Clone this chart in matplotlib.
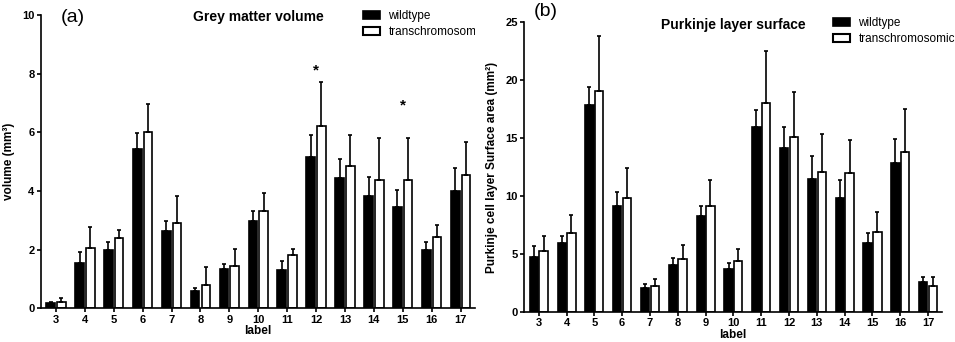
import numpy as np
import matplotlib
matplotlib.use('Agg')
import matplotlib.pyplot as plt
from matplotlib.patches import Patch
from matplotlib.transforms import Bbox, TransformedBbox

plt.rcParams['font.family'] = ['Liberation Sans', 'DejaVu Sans']

labels = [3, 4, 5, 6, 7, 8, 9, 10, 11, 12, 13, 14, 15, 16, 17]
groups = ['wildtype', 'transchromosomic']

# (a) grey matter volume, mm^3 (mean and upper SEM)
gm_wt = [0.17, 1.53, 2.00, 5.42, 2.64, 0.59, 1.33, 2.97, 1.31, 5.17, 4.45, 3.83, 3.45, 1.99, 3.99]
gm_wt_err = [0.03, 0.38, 0.25, 0.57, 0.34, 0.11, 0.17, 0.36, 0.29, 0.74, 0.64, 0.66, 0.57, 0.28, 0.78]
gm_tc = [0.22, 2.05, 2.41, 6.02, 2.90, 0.78, 1.45, 3.31, 1.81, 6.22, 4.86, 4.38, 4.38, 2.44, 4.55]
gm_tc_err = [0.13, 0.73, 0.26, 0.93, 0.94, 0.62, 0.57, 0.63, 0.20, 1.51, 1.05, 1.44, 1.44, 0.39, 1.13]
gm_star = {12: 8.1, 15: 6.9}

# (b) purkinje cell layer surface area, mm^2
pk_wt = [4.71, 5.95, 17.84, 9.17, 2.07, 4.08, 8.30, 3.74, 15.98, 14.11, 11.49, 9.86, 5.95, 12.84, 2.59]
pk_wt_err = [0.95, 0.57, 1.56, 1.20, 0.37, 0.58, 0.81, 0.51, 1.43, 1.81, 1.96, 1.55, 0.86, 2.07, 0.43]
pk_tc = [5.23, 6.81, 19.08, 9.86, 2.27, 4.60, 9.17, 4.37, 18.05, 15.11, 12.04, 12.01, 6.90, 13.82, 2.27]
pk_tc_err = [1.29, 1.58, 4.72, 2.55, 0.57, 1.15, 2.24, 1.03, 4.42, 3.88, 3.33, 2.82, 1.72, 3.68, 0.75]

W, H = 955, 342
fig = plt.figure(figsize=(W / 100, H / 100), dpi=100)

def px(x0, y0, x1, y1):
	return [x0 / W, 1 - y1 / H, (x1 - x0) / W, (y1 - y0) / H]

ax1 = fig.add_axes(px(40.7, 15, 475, 308.3))
ax2 = fig.add_axes(px(524, 22, 942, 312))

LW = 1.2

def draw_panel(ax, wt, wt_err, tc, tc_err, ymax, ystep, offset):
	x = np.array(labels, dtype=float)
	zeros = np.zeros(len(x))
	ax.bar(x - offset, wt, width=0.3, color='black', edgecolor='black', linewidth=LW, zorder=2)
	ax.bar(x + offset, tc, width=0.3, color='white', edgecolor='black', linewidth=LW, zorder=2)
	ax.errorbar(x - offset, wt, yerr=[zeros, wt_err], fmt='none', ecolor='black',
		elinewidth=LW, capsize=1.6, capthick=LW, zorder=3)
	ax.errorbar(x + offset, tc, yerr=[zeros, tc_err], fmt='none', ecolor='black',
		elinewidth=LW, capsize=1.6, capthick=LW, zorder=3)
	ax.set_xlim(2.47, 17.5)
	ax.set_ylim(0, ymax)
	ax.set_yticks(np.arange(0, ymax + 0.1, ystep))
	ax.set_xticks(labels)
	for s in ['top', 'right']:
		ax.spines[s].set_visible(False)
	for s in ['left', 'bottom']:
		ax.spines[s].set_linewidth(LW)
	ax.tick_params(length=3, width=LW, labelsize=8, pad=1.5)
	for t in ax.get_xticklabels() + ax.get_yticklabels():
		t.set_fontweight('bold')
	ax.set_xlabel('label', fontsize=8.5, fontweight='bold', labelpad=0.5)

draw_panel(ax1, gm_wt, gm_wt_err, gm_tc, gm_tc_err, 10, 2, 0.185)
draw_panel(ax2, pk_wt, pk_wt_err, pk_tc, pk_tc_err, 25, 5, 0.175)

for k, yv in gm_star.items():
	ax1.text(k, yv, '*', ha='center', va='center', fontsize=11, fontweight='bold')

ax1.set_ylabel('volume (mm³)', fontsize=8.5, fontweight='bold')
ax1.yaxis.set_label_coords(-0.059, 0.5)
ax2.set_ylabel('Purkinje cell layer Surface area (mm²)', fontsize=8.5, fontweight='bold')
ax2.yaxis.set_label_coords(-0.062, 0.5)

fig.text(258 / W, 1 - 17 / H, 'Grey matter volume', ha='center', va='center', fontsize=10, fontweight='bold')
fig.text(733 / W, 1 - 25 / H, 'Purkinje layer surface', ha='center', va='center', fontsize=10, fontweight='bold')
fig.text(73 / W, 1 - 18 / H, '(a)', ha='center', va='center', fontsize=14)
fig.text(546 / W, 1 - 12 / H, '(b)', ha='center', va='center', fontsize=14)

handles = [Patch(facecolor='black', edgecolor='black', linewidth=LW),
	Patch(facecolor='white', edgecolor='black', linewidth=1.5)]

def add_legend(ax, x0, y0):
	return ax.legend(handles, groups, loc='upper left', bbox_to_anchor=(x0 / W, 1 - y0 / H),
		bbox_transform=fig.transFigure, frameon=False, fontsize=8.5, borderpad=0,
		borderaxespad=0, handlelength=1.45, handleheight=0.7, handletextpad=0.7, labelspacing=0.35)

leg1 = add_legend(ax1, 363, 10)
# the left legend runs past the panel edge and is cut off there
clip = TransformedBbox(Bbox([[0, 0], [475 / W, 1]]), fig.transFigure)
for t in leg1.get_texts():
	t.set_clip_box(clip)
	t.set_clip_on(True)
add_legend(ax2, 833, 17)

fig.savefig('out.png', dpi=100)
